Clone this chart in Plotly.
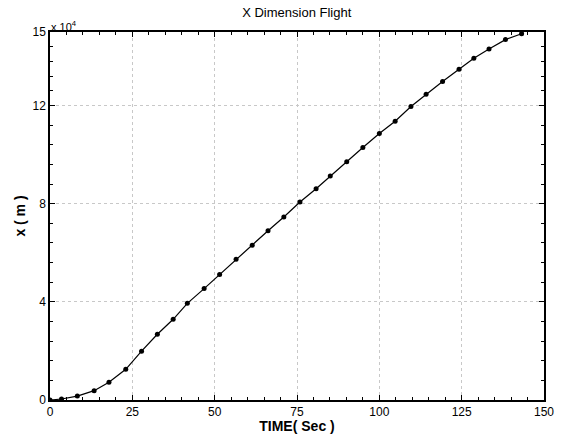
import plotly.graph_objects as go

# Data (x in units of 1e4 m)
time_s = [0.0, 3.5, 8.3, 13.4, 17.9, 23.0, 27.8, 32.6, 37.4, 41.7, 46.8, 51.5, 56.5,
          61.4, 66.2, 71.0, 75.9, 80.8, 85.1, 90.1, 95.0, 100.0, 104.8, 109.6,
          114.2, 119.2, 124.2, 128.7, 133.3, 138.3, 143.2]
x_1e4 = [0.0, 0.04, 0.16, 0.38, 0.72, 1.25, 1.99, 2.68, 3.29, 3.94, 4.54, 5.12, 5.74,
         6.31, 6.90, 7.46, 8.07, 8.61, 9.13, 9.71, 10.29, 10.86, 11.36, 11.96,
         12.46, 12.98, 13.48, 13.93, 14.31, 14.69, 14.93]

x_ticks = [0, 25, 50, 75, 100, 125, 150]
y_ticks = [0, 4, 8, 12, 15]
y_tick_labels = ["0", "4", "8", "12", "15"]

y_minor = []
for a, b in zip(y_ticks[:-1], y_ticks[1:]):
    for k in range(1, 5):
        y_minor.append(a + (b - a) * k / 5)

fig = go.Figure()
fig.add_trace(go.Scatter(
    x=time_s, y=x_1e4, mode="lines+markers",
    line=dict(color="black", width=1.2),
    marker=dict(color="black", size=5, symbol="circle"),
    showlegend=False,
))

font = "Liberation Sans, Arial, sans-serif"
fig.update_layout(
    width=562, height=434,
    margin=dict(l=50, r=18, t=32, b=34),
    paper_bgcolor="white", plot_bgcolor="white",
    font=dict(family=font, color="black", size=12),
    title=dict(text="X Dimension Flight", x=0.528, xanchor="center",
               y=0.972, yanchor="middle", font=dict(size=13, family=font, color="black")),
    xaxis=dict(
        range=[0, 150], tickvals=x_ticks, ticks="inside", ticklen=5, tickwidth=1,
        tickcolor="black", mirror="allticks", showline=True, linecolor="black",
        linewidth=1.5, showgrid=True, gridcolor="#c8c8c8", griddash="dot",
        gridwidth=1, zeroline=False, automargin=False,
        minor=dict(dtick=5, ticks="inside", ticklen=3, tickcolor="black", showgrid=False),
        title=dict(text="<b>TIME( Sec )</b>", standoff=0, font=dict(size=14, color="black")),
        tickfont=dict(size=12, color="black"),
    ),
    yaxis=dict(
        range=[0, 15], tickvals=y_ticks, ticktext=y_tick_labels, ticks="inside",
        ticklen=5, tickwidth=1, tickcolor="black", mirror="allticks", showline=True,
        linecolor="black", linewidth=1.5, showgrid=True, gridcolor="#c8c8c8",
        griddash="dot", gridwidth=1, zeroline=False, automargin=False,
        minor=dict(tickvals=y_minor, ticks="inside", ticklen=3, tickcolor="black", showgrid=False),
        title=dict(text="<b>x ( m )</b>", standoff=4, font=dict(size=14, color="black")),
        tickfont=dict(size=12, color="black"),
    ),
    annotations=[dict(
        text="x 10<sup>4</sup>", xref="paper", yref="paper", x=-0.003, y=1.0,
        xanchor="left", yanchor="bottom", showarrow=False,
        font=dict(size=11, color="black"), yshift=-3,
    )],
)

fig.write_html("out.html")
